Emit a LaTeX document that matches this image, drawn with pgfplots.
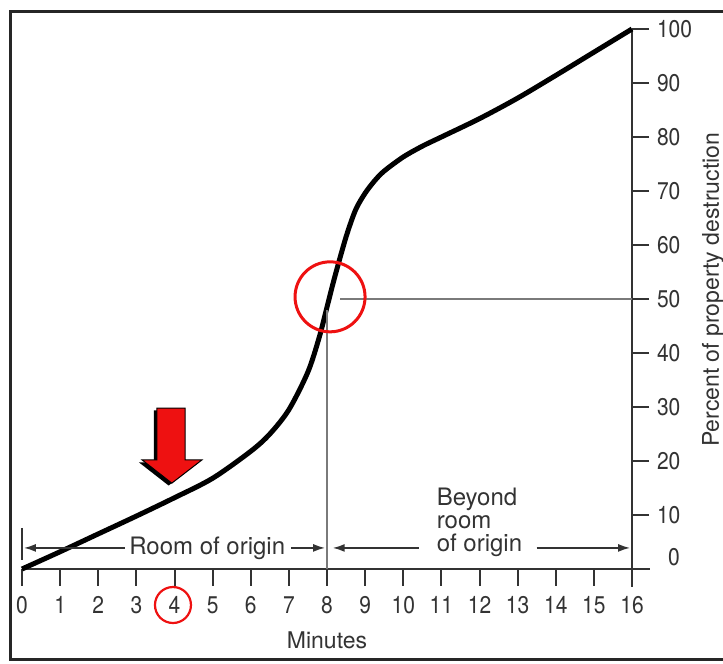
\documentclass[border=0pt]{standalone}
\usepackage{fontspec}
\setmainfont{TeX Gyre Heros}
\usepackage{pgfplots}
\pgfplotsset{compat=1.18}
\usetikzlibrary{arrows.meta,calc}
\definecolor{axgray}{HTML}{333333}
\definecolor{refline}{HTML}{7A7A7A}
\definecolor{hired}{HTML}{EE1111}
\begin{document}
\begin{tikzpicture}
\begin{axis}[
  at={(0,0)}, anchor=south west,
  width=305pt, height=270pt, scale only axis,
  xmin=0, xmax=16, ymin=0, ymax=100,
  clip=false,
  axis x line*=bottom, axis y line*=right,
  every outer x axis line/.append style={-},
  every outer y axis line/.append style={-},
  x axis line style={-, shorten >=-9pt},
  y axis line style={-, shorten <=-9pt},
  axis line style={axgray, line width=1pt},
  xtick={0,1,...,16}, ytick={10,20,...,100},
  tick align=outside,
  major tick length=8.5pt,
  tick style={axgray, line width=1pt},
  /pgf/number format/assume math mode=true,
  tick label style={font=\fontsize{10.5}{12}\selectfont, text=axgray, yscale=1.15},
  xticklabel style={yshift=-1pt},
  yticklabel style={xshift=0.5pt},
]
% curve
\addplot[black, line width=2.5pt, smooth] coordinates {
(0,0) (1,3.2) (2,6.5) (3,9.8) (4,13.2) (5,16.8) (6,21.8) (6.5,25) (7,29.5)
(7.5,36.5) (7.8,43) (8,48.5) (8.2,54) (8.5,61.5) (8.75,66.5) (9,69.6) (9.25,71.9)
(9.5,73.7) (10,76.3) (10.5,78.3) (11,80) (12,83.4) (13,87.2) (14,91.4) (15,95.7) (16,100)};
% reference lines
\addplot[refline, line width=0.9pt, forget plot] coordinates {(8.35,50) (16,50)};
\addplot[refline, line width=0.9pt, forget plot] coordinates {(8,0) (8,48)};
% red circles
\addplot[only marks, mark=o, mark size=17.5pt, mark options={draw=hired, line width=1.5pt}, forget plot] coordinates {(8.08,50.4)};
\addplot[only marks, mark=o, mark size=9pt, mark options={draw=hired, line width=1.1pt}, forget plot] coordinates {(3.96,-6.67)};
% room arrows
\draw[axgray, line width=0.8pt] (axis cs:0,7.6) -- (axis cs:0,1.7);
\draw[axgray, line width=0.8pt, {Latex[length=6pt,width=4pt]}-] (axis cs:0.05,3.9) -- (axis cs:2.7,3.9);
\draw[axgray, line width=0.8pt, -{Latex[length=6pt,width=4pt]}] (axis cs:7.05,3.9) -- (axis cs:7.95,3.9);
\draw[axgray, line width=0.8pt, {Latex[length=6pt,width=4pt]}-] (axis cs:8.15,3.9) -- (axis cs:10.4,3.9);
\draw[axgray, line width=0.8pt, -{Latex[length=6pt,width=4pt]}] (axis cs:13.5,3.9) -- (axis cs:15.95,3.9);
\node[font=\fontsize{12}{14}\selectfont, text=axgray] at (axis cs:4.86,3.9) {Room of origin};
\node[anchor=north west, inner sep=0pt, align=left, font=\fontsize{12}{11.5}\selectfont, text=axgray] at (axis cs:10.87,15) {Beyond\\room\\of origin};
% red arrow
\fill[black] ($(axis cs:3.54,29.8)+(-1.6pt,-1.2pt)$) -- ($(axis cs:4.28,29.8)+(-1.6pt,-1.2pt)$) -- ($(axis cs:4.28,20.2)+(-1.6pt,-1.2pt)$) -- ($(axis cs:4.72,20.2)+(-1.6pt,-1.2pt)$) -- ($(axis cs:3.93,15.9)+(-1.6pt,-1.2pt)$) -- ($(axis cs:3.15,20.2)+(-1.6pt,-1.2pt)$) -- ($(axis cs:3.54,20.2)+(-1.6pt,-1.2pt)$) -- cycle;
\filldraw[fill=hired, draw=black, line width=0.5pt] (axis cs:3.54,29.8) -- (axis cs:4.28,29.8) -- (axis cs:4.28,20.2) -- (axis cs:4.72,20.2) -- (axis cs:3.93,15.9) -- (axis cs:3.15,20.2) -- (axis cs:3.54,20.2) -- cycle;
% labels
\node[font=\fontsize{10.5}{12}\selectfont, text=axgray, yscale=1.15] at ($(axis cs:16,0)+(21pt,6pt)$) {0};
\node[font=\fontsize{11.5}{13}\selectfont, text=axgray, rotate=90] at ($(axis cs:16,51.7)+(40.5pt,0pt)$) {Percent of property destruction};
\node[font=\fontsize{11.5}{13}\selectfont, text=axgray] at ($(axis cs:8,0)+(0pt,-35.5pt)$) {Minutes};
\end{axis}
\draw[line width=1.5pt, black!85] (353pt,278.5pt) -- (-6pt,278.5pt) -- (-6pt,-45.5pt) -- (353pt,-45.5pt);
\pgfresetboundingbox
\path[use as bounding box] (-11pt,-47.5pt) rectangle (350.5pt,284.5pt);
\end{tikzpicture}
\end{document}
